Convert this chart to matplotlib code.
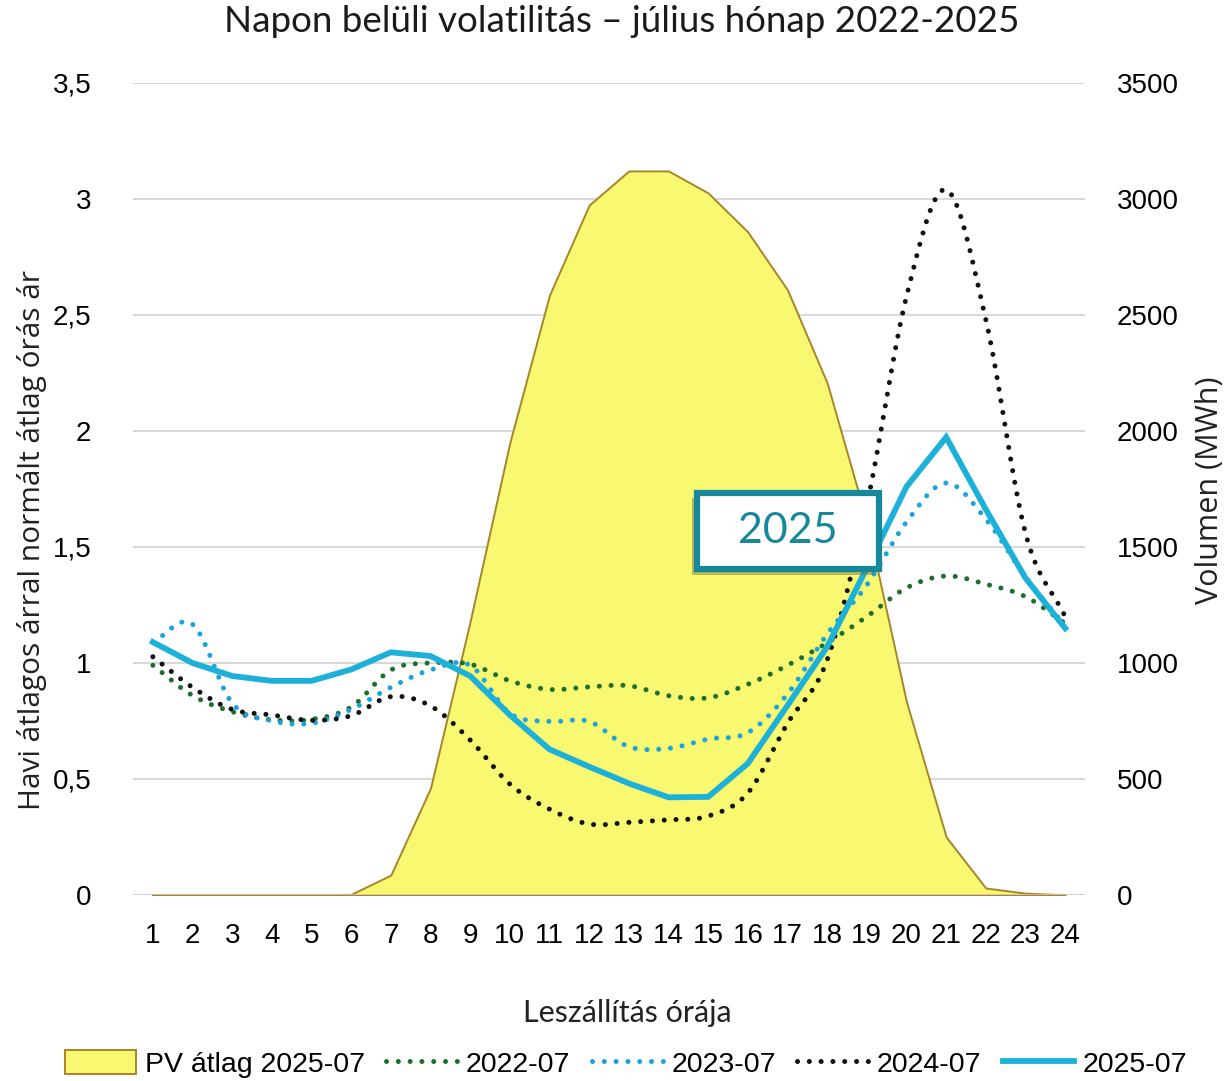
import numpy as np
import matplotlib
matplotlib.use("Agg")
import matplotlib.pyplot as plt
from matplotlib.patches import Rectangle, Patch
from matplotlib.lines import Line2D
import matplotlib.patheffects as pe

# ---------------- data ----------------
hours = list(range(1, 25))
hour_labels = [str(h) for h in hours]

pv_2025_07 = [0, 0, 0, 0, 0, 3, 86, 461, 1180, 1950, 2586, 2974, 3121, 3121,
              3026, 2858, 2608, 2207, 1610, 832, 250, 30, 8, 1]

y2022_07 = [0.99, 0.86, 0.79, 0.755, 0.757, 0.81, 0.97, 1.0, 0.995, 0.923, 0.886, 0.897,
            0.902, 0.859, 0.85, 0.908, 0.99, 1.087, 1.2, 1.324, 1.375, 1.34, 1.286, 1.17]
y2023_07 = [1.09, 1.167, 0.827, 0.751, 0.74, 0.80, 0.895, 0.97, 0.99, 0.783, 0.748, 0.748,
            0.639, 0.632, 0.672, 0.70, 0.866, 1.125, 1.336, 1.608, 1.776, 1.62, 1.37, 1.16]
y2024_07 = [1.027, 0.895, 0.80, 0.776, 0.753, 0.773, 0.855, 0.815, 0.668, 0.478, 0.37, 0.306,
            0.313, 0.324, 0.34, 0.44, 0.74, 1.013, 1.68, 2.58, 3.04, 2.48, 1.56, 1.2]
y2025_07 = [1.09, 1.0, 0.944, 0.923, 0.923, 0.972, 1.046, 1.03, 0.944, 0.776, 0.628, 0.553,
            0.481, 0.421, 0.423, 0.567, 0.817, 1.07, 1.41, 1.76, 1.973, 1.662, 1.366, 1.15]

left_ticks = [0, 0.5, 1, 1.5, 2, 2.5, 3, 3.5]
left_tick_labels = ["0", "0,5", "1", "1,5", "2", "2,5", "3", "3,5"]
right_ticks = [0, 500, 1000, 1500, 2000, 2500, 3000, 3500]
right_tick_labels = ["0", "500", "1000", "1500", "2000", "2500", "3000", "3500"]

series_names = ["PV átlag 2025-07", "2022-07", "2023-07", "2024-07", "2025-07"]
title = "Napon belüli volatilitás – július hónap 2022-2025"
x_label = "Leszállítás órája"
y_label_left = "Havi átlagos árral normált átlag órás ár"
y_label_right = "Volumen (MWh)"
annotation_text = "2025"

# ---------------- style ----------------
C_FILL = "#F9F871"
C_EDGE = "#A8842A"
C_GREEN = "#1E6E2C"
C_BLUE_DOT = "#1AA3DE"
C_BLACK = "#111111"
C_SOLID = "#1DB1D9"
C_TEAL = "#17879B"
C_GRID = "#D9D9D9"

TICK_FONT = ["Liberation Sans", "DejaVu Sans"]
TITLE_FONT = ["Lato", "DejaVu Sans"]
LABEL_FONT = ["Open Sans", "DejaVu Sans"]


def smooth(xs, ys, n=20):
    """Catmull-Rom style smoothing for drawing (like spreadsheet 'smoothed line')."""
    x = np.asarray(xs, float)
    y = np.asarray(ys, float)
    px = np.concatenate([[2 * x[0] - x[1]], x, [2 * x[-1] - x[-2]]])
    py = np.concatenate([[2 * y[0] - y[1]], y, [2 * y[-1] - y[-2]]])
    out_x, out_y = [], []
    for i in range(1, len(px) - 2):
        t = np.linspace(0, 1, n, endpoint=False)
        for arr, out in ((px, out_x), (py, out_y)):
            p0, p1, p2, p3 = arr[i - 1], arr[i], arr[i + 1], arr[i + 2]
            out.extend(0.5 * ((2 * p1) + (-p0 + p2) * t +
                              (2 * p0 - 5 * p1 + 4 * p2 - p3) * t ** 2 +
                              (-p0 + 3 * p1 - 3 * p2 + p3) * t ** 3))
    out_x.append(x[-1])
    out_y.append(y[-1])
    return np.array(out_x), np.array(out_y)


W, H = 1228, 1081
fig = plt.figure(figsize=(W / 100, H / 100), dpi=100)
fig.patch.set_facecolor("white")

L, R, T, B = 133, 1085, 83, 895
rect = [L / W, 1 - B / H, (R - L) / W, (B - T) / H]
ax2 = fig.add_axes(rect)             # PV (right axis), background
ax = fig.add_axes(rect, sharex=ax2)  # lines (left axis) on top
ax.patch.set_visible(False)
ax.set_zorder(ax2.get_zorder() + 1)

# PV area on ax2
ax2.fill_between(hours, pv_2025_07, 0, facecolor=C_FILL, edgecolor=C_EDGE,
                 linewidth=1.4, zorder=2)
ax2.set_ylim(0, 3500)
ax2.set_yticks(right_ticks)
ax2.set_yticklabels(right_tick_labels)
ax2.yaxis.tick_right()
ax2.grid(axis="y", color=C_GRID, linewidth=1.5, zorder=0)
ax2.set_axisbelow(True)
for s in ax2.spines.values():
    s.set_visible(False)
ax2.tick_params(axis="y", length=0, pad=23, labelsize=20)
ax2.tick_params(axis="x", length=0, pad=20, labelsize=20)
for lab in ax2.get_yticklabels() + ax2.get_xticklabels():
    lab.set_family(TICK_FONT)

# lines on ax
dot = dict(linestyle=(0, (0.01, 2.35)), dash_capstyle="round", linewidth=3.6)
for ys, c in ((y2022_07, C_GREEN), (y2023_07, C_BLUE_DOT), (y2024_07, C_BLACK)):
    sx, sy = smooth(hours, ys)
    ax.plot(sx, sy, color=c, zorder=3, **dot)
ax.plot(hours, y2025_07, color=C_SOLID, linewidth=4.2, solid_joinstyle="miter",
        zorder=4)

ax.set_xlim(0.5, 24.5)
ax.set_ylim(0, 3.5)
ax.set_xticks(hours)
ax.set_xticklabels(hour_labels)
ax.set_yticks(left_ticks)
ax.set_yticklabels(left_tick_labels)
ax.tick_params(axis="y", length=0, pad=30, labelsize=20)
ax.tick_params(axis="x", length=0, labelbottom=False)
for lab in ax.get_yticklabels():
    lab.set_family(TICK_FONT)
for s in ax.spines.values():
    s.set_visible(False)
ax.axhline(0, color="#D3D0C4", linewidth=1.8, zorder=1)

# axis titles
fig.text(32 / W, 1 - 540 / H, y_label_left, rotation=90, ha="center", va="center",
         fontsize=21.5, family=LABEL_FONT, color="#222222")
fig.text(1210 / W, 1 - 490 / H, y_label_right, rotation=90, ha="center", va="center",
         fontsize=22, family=LABEL_FONT, color="#222222")
fig.text(627 / W, 1 - 1013 / H, x_label, ha="center", va="center",
         fontsize=22, family=TITLE_FONT, color="#222222")

# annotation box "2025"
box = Rectangle((14.72, 1.405), 4.59, 0.328, transform=ax.transData,
                facecolor="white", edgecolor=C_TEAL, linewidth=4.5, zorder=6)
box.set_path_effects([pe.SimplePatchShadow(offset=(-4, -4), shadow_rgbFace="#6b6b3a",
                                           alpha=0.45), pe.Normal()])
ax.add_patch(box)
ax.text(14.72 + 4.59 / 2, 1.405 + 0.328 / 2, annotation_text, ha="center",
        va="center", fontsize=31, color=C_TEAL, family=TITLE_FONT, zorder=7)

fig.text(0.5 * (212 + 1031) / W, 1 - 22 / H, title, ha="center", va="center",
         fontsize=26.5, family=TITLE_FONT, color="#1a1a1a")

# legend
handles = [
    Patch(facecolor=C_FILL, edgecolor=C_EDGE, linewidth=1.4),
    Line2D([], [], color=C_GREEN, **dot),
    Line2D([], [], color=C_BLUE_DOT, **dot),
    Line2D([], [], color=C_BLACK, **dot),
    Line2D([], [], color=C_SOLID, linewidth=4.2),
]
fig.legend(handles, series_names, loc="center", bbox_to_anchor=(626 / W, 1 - 1064 / H),
           ncol=5, frameon=False, handlelength=2.5, handleheight=0.9,
           handletextpad=0.3, columnspacing=0.75,
           prop={"family": TICK_FONT, "size": 20.5})

fig.savefig("out.png", dpi=100, facecolor="white")
